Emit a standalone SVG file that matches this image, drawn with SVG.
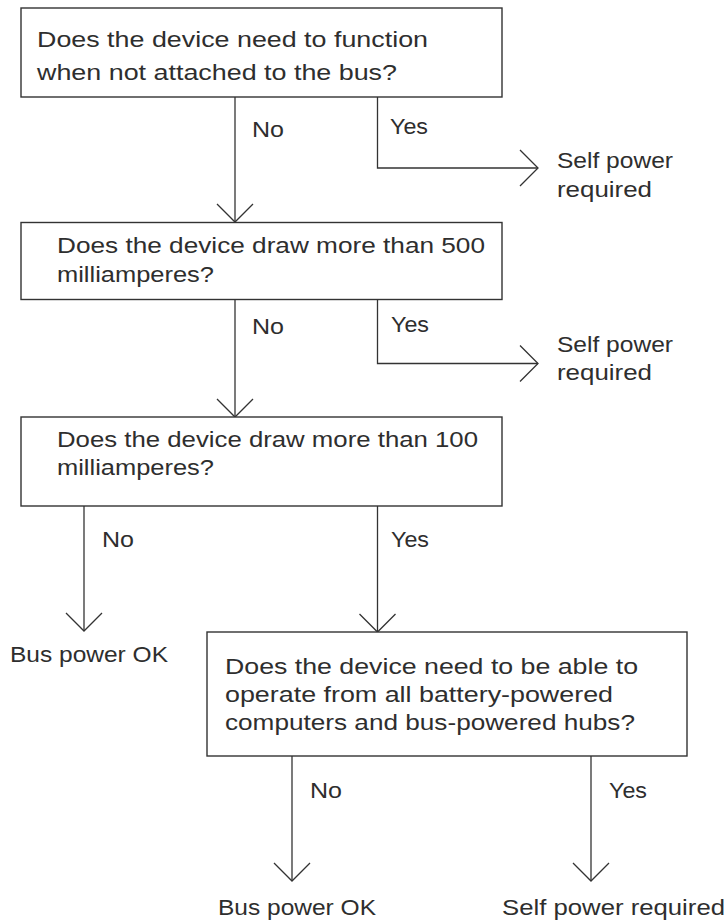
<svg xmlns="http://www.w3.org/2000/svg" width="728" height="920" viewBox="0 0 728 920">
<style>
text{font-family:"Liberation Sans","DejaVu Sans",sans-serif;font-size:22px;fill:#2e2e2e}
.box{fill:#fff;stroke:#333;stroke-width:1.4}
.ln{fill:none;stroke:#333;stroke-width:1.3}
.ah{fill:none;stroke:#333;stroke-width:1.3}
</style>
<rect width="728" height="920" fill="#fff"/>
<g id="connectors">
<line class="ln" x1="235" y1="97" x2="235" y2="222"/>
<polyline class="ah" points="217,204 235,222 253,204"/>
<polyline class="ln" points="377.5,97 377.5,168 538,168"/>
<polyline class="ah" points="520,150 538,168 520,186"/>
<line class="ln" x1="235" y1="299" x2="235" y2="417"/>
<polyline class="ah" points="217,399 235,417 253,399"/>
<polyline class="ln" points="377.5,299 377.5,363.5 538,363.5"/>
<polyline class="ah" points="520,345.5 538,363.5 520,381.5"/>
<line class="ln" x1="84" y1="506" x2="84" y2="631"/>
<polyline class="ah" points="66,613 84,631 102,613"/>
<line class="ln" x1="377.5" y1="506" x2="377.5" y2="632"/>
<polyline class="ah" points="359.5,614 377.5,632 395.5,614"/>
<line class="ln" x1="292" y1="756" x2="292" y2="881"/>
<polyline class="ah" points="274,863 292,881 310,863"/>
<line class="ln" x1="591" y1="756" x2="591" y2="881"/>
<polyline class="ah" points="573,863 591,881 609,863"/>
<text x="252" y="137" textLength="32" lengthAdjust="spacingAndGlyphs">No</text>
<text x="390" y="134" textLength="38" lengthAdjust="spacingAndGlyphs">Yes</text>
<text x="252" y="334" textLength="32" lengthAdjust="spacingAndGlyphs">No</text>
<text x="391" y="331.5" textLength="38" lengthAdjust="spacingAndGlyphs">Yes</text>
<text x="102" y="546.5" textLength="32" lengthAdjust="spacingAndGlyphs">No</text>
<text x="391" y="546.5" textLength="38" lengthAdjust="spacingAndGlyphs">Yes</text>
<text x="310" y="798" textLength="32" lengthAdjust="spacingAndGlyphs">No</text>
<text x="609" y="798" textLength="38" lengthAdjust="spacingAndGlyphs">Yes</text>
</g>
<g id="q1">
<rect class="box" x="21" y="8" width="481" height="89"/>
<text x="37" y="47" textLength="391" lengthAdjust="spacingAndGlyphs">Does the device need to function</text>
<text x="37" y="80" textLength="360" lengthAdjust="spacingAndGlyphs">when not attached to the bus?</text>
</g>
<g id="r1">
<text x="557" y="168" textLength="116" lengthAdjust="spacingAndGlyphs">Self power</text>
<text x="557" y="197" textLength="95" lengthAdjust="spacingAndGlyphs">required</text>
</g>
<g id="q2">
<rect class="box" x="21" y="222.5" width="481" height="77"/>
<text x="57" y="253" textLength="428" lengthAdjust="spacingAndGlyphs">Does the device draw more than 500</text>
<text x="57" y="281.5" textLength="157" lengthAdjust="spacingAndGlyphs">milliamperes?</text>
</g>
<g id="r2">
<text x="557" y="352" textLength="116" lengthAdjust="spacingAndGlyphs">Self power</text>
<text x="557" y="380" textLength="95" lengthAdjust="spacingAndGlyphs">required</text>
</g>
<g id="q3">
<rect class="box" x="21" y="417" width="481" height="89"/>
<text x="57" y="447" textLength="421" lengthAdjust="spacingAndGlyphs">Does the device draw more than 100</text>
<text x="57" y="475" textLength="157" lengthAdjust="spacingAndGlyphs">milliamperes?</text>
</g>
<g id="r3">
<text x="10" y="662" textLength="158" lengthAdjust="spacingAndGlyphs">Bus power OK</text>
</g>
<g id="q4">
<rect class="box" x="207" y="632" width="480" height="124"/>
<text x="225" y="673.5" textLength="413" lengthAdjust="spacingAndGlyphs">Does the device need to be able to</text>
<text x="225" y="701.5" textLength="388" lengthAdjust="spacingAndGlyphs">operate from all battery-powered</text>
<text x="225" y="729.5" textLength="410" lengthAdjust="spacingAndGlyphs">computers and bus-powered hubs?</text>
</g>
<g id="r4">
<text x="218" y="915" textLength="158" lengthAdjust="spacingAndGlyphs">Bus power OK</text>
</g>
<g id="r5">
<text x="502" y="915" textLength="223" lengthAdjust="spacingAndGlyphs">Self power required</text>
</g>
</svg>
